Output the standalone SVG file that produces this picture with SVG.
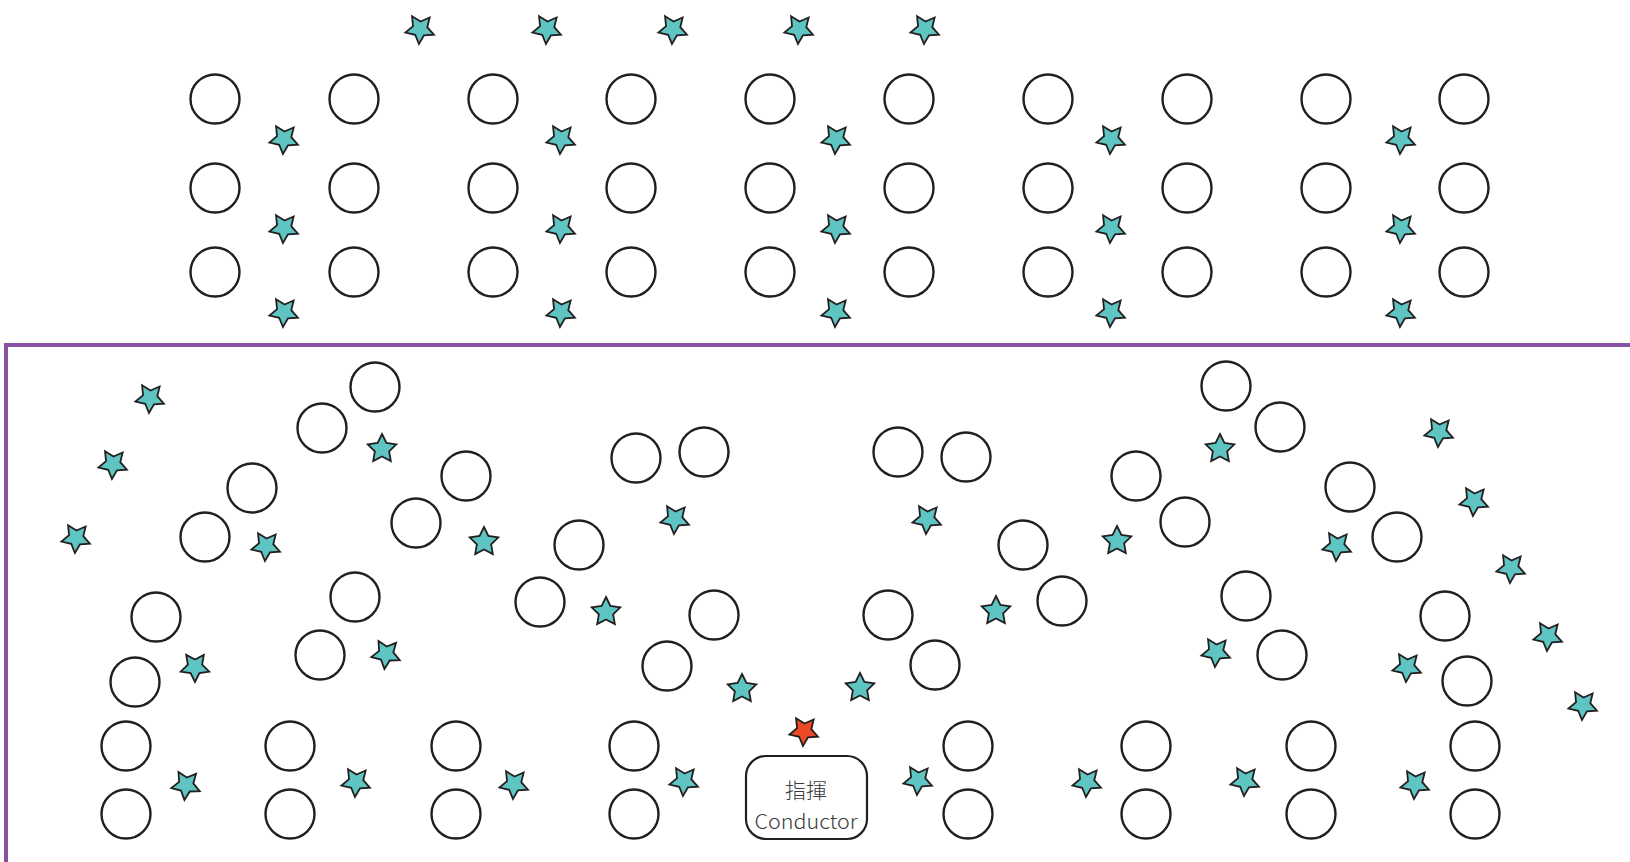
<svg xmlns="http://www.w3.org/2000/svg" xmlns:xlink="http://www.w3.org/1999/xlink" width="1630" height="862" viewBox="0 0 1630 862">
<style>
.seat{fill:#fff;stroke:#231f20;stroke-width:2.4}
.st{fill:#5ec5c2;stroke:#231f20;stroke-width:1.8;stroke-linejoin:miter}
.red{fill:#ee4a26;stroke:#231f20;stroke-width:1.8}
.frame{fill:none;stroke:#8851a4;stroke-width:4}
.box{fill:#fff;stroke:#231f20;stroke-width:2.2}
.cjk{font-family:"Noto Sans CJK TC","Noto Sans CJK SC",sans-serif;font-weight:300;font-size:21px;fill:#3a3a3a}
.lat{font-family:"Noto Sans CJK TC","Noto Sans",sans-serif;font-weight:300;font-size:20px;fill:#3a3a3a}
</style>
<defs>
<path id="star" d="M0,-15 L4.41,-6.07 L14.27,-4.64 L7.13,2.32 L8.82,12.14 L0,7.5 L-8.82,12.14 L-7.13,2.32 L-14.27,-4.64 L-4.41,-6.07 Z"/>
<circle id="c" r="24.5"/>
</defs>
<rect width="1630" height="862" fill="#fff"/>
<g id="frame"><path class="frame" d="M6,870 L6,345 L1640,345"/></g>
<g id="top-seats" class="seat">
<use href="#c" x="215" y="99"/><use href="#c" x="215" y="188"/><use href="#c" x="215" y="272"/>
<use href="#c" x="354" y="99"/><use href="#c" x="354" y="188"/><use href="#c" x="354" y="272"/>
<use href="#c" x="493" y="99"/><use href="#c" x="493" y="188"/><use href="#c" x="493" y="272"/>
<use href="#c" x="631" y="99"/><use href="#c" x="631" y="188"/><use href="#c" x="631" y="272"/>
<use href="#c" x="770" y="99"/><use href="#c" x="770" y="188"/><use href="#c" x="770" y="272"/>
<use href="#c" x="909" y="99"/><use href="#c" x="909" y="188"/><use href="#c" x="909" y="272"/>
<use href="#c" x="1048" y="99"/><use href="#c" x="1048" y="188"/><use href="#c" x="1048" y="272"/>
<use href="#c" x="1187" y="99"/><use href="#c" x="1187" y="188"/><use href="#c" x="1187" y="272"/>
<use href="#c" x="1326" y="99"/><use href="#c" x="1326" y="188"/><use href="#c" x="1326" y="272"/>
<use href="#c" x="1464" y="99"/><use href="#c" x="1464" y="188"/><use href="#c" x="1464" y="272"/>
</g>
<g id="top-stars" class="st">
<use href="#star" transform="translate(420,29) rotate(-32)"/>
<use href="#star" transform="translate(547,29) rotate(-32)"/>
<use href="#star" transform="translate(673,29) rotate(-32)"/>
<use href="#star" transform="translate(799,29) rotate(-32)"/>
<use href="#star" transform="translate(925,29) rotate(-32)"/>
<use href="#star" transform="translate(284,139) rotate(-32)"/><use href="#star" transform="translate(284,228) rotate(-32)"/><use href="#star" transform="translate(284,312) rotate(-32)"/>
<use href="#star" transform="translate(561,139) rotate(-32)"/><use href="#star" transform="translate(561,228) rotate(-32)"/><use href="#star" transform="translate(561,312) rotate(-32)"/>
<use href="#star" transform="translate(836,139) rotate(-32)"/><use href="#star" transform="translate(836,228) rotate(-32)"/><use href="#star" transform="translate(836,312) rotate(-32)"/>
<use href="#star" transform="translate(1111,139) rotate(-32)"/><use href="#star" transform="translate(1111,228) rotate(-32)"/><use href="#star" transform="translate(1111,312) rotate(-32)"/>
<use href="#star" transform="translate(1401,139) rotate(-32)"/><use href="#star" transform="translate(1401,228) rotate(-32)"/><use href="#star" transform="translate(1401,312) rotate(-32)"/>
</g>
<g id="lower-seats" class="seat">
<use href="#c" x="375" y="387"/><use href="#c" x="322" y="428"/>
<use href="#c" x="252" y="488"/><use href="#c" x="205" y="537"/>
<use href="#c" x="466" y="476"/><use href="#c" x="416" y="523"/>
<use href="#c" x="355" y="597"/><use href="#c" x="320" y="655"/>
<use href="#c" x="156" y="617"/><use href="#c" x="135" y="682"/>
<use href="#c" x="126" y="746"/><use href="#c" x="126" y="814"/>
<use href="#c" x="290" y="746"/><use href="#c" x="290" y="814"/>
<use href="#c" x="456" y="746"/><use href="#c" x="456" y="814"/>
<use href="#c" x="579" y="545"/><use href="#c" x="540" y="602"/>
<use href="#c" x="636" y="458"/><use href="#c" x="704" y="452"/>
<use href="#c" x="714" y="615"/><use href="#c" x="667" y="666"/>
<use href="#c" x="634" y="746"/><use href="#c" x="634" y="814"/>
<use href="#c" x="898" y="452"/><use href="#c" x="966" y="457"/>
<use href="#c" x="1023" y="545"/><use href="#c" x="1062" y="601"/>
<use href="#c" x="888" y="615"/><use href="#c" x="935" y="665"/>
<use href="#c" x="968" y="746"/><use href="#c" x="968" y="814"/>
<use href="#c" x="1136" y="476"/><use href="#c" x="1185" y="522"/>
<use href="#c" x="1226" y="386"/><use href="#c" x="1280" y="427"/>
<use href="#c" x="1350" y="487"/><use href="#c" x="1397" y="537"/>
<use href="#c" x="1246" y="596"/><use href="#c" x="1282" y="655"/>
<use href="#c" x="1445" y="616"/><use href="#c" x="1467" y="681"/>
<use href="#c" x="1146" y="746"/><use href="#c" x="1146" y="814"/>
<use href="#c" x="1311" y="746"/><use href="#c" x="1311" y="814"/>
<use href="#c" x="1475" y="746"/><use href="#c" x="1475" y="814"/>
</g>
<g id="lower-stars" class="st">
<use href="#star" transform="translate(150,398) rotate(-32)"/>
<use href="#star" transform="translate(113,464) rotate(-32)"/>
<use href="#star" transform="translate(76,538) rotate(-32)"/>
<use href="#star" transform="translate(382,449)"/>
<use href="#star" transform="translate(266,546) rotate(-32)"/>
<use href="#star" transform="translate(484,542)"/>
<use href="#star" transform="translate(195,667) rotate(-36)"/>
<use href="#star" transform="translate(186,785) rotate(-30)"/>
<use href="#star" transform="translate(386,654) rotate(-30)"/>
<use href="#star" transform="translate(356,782) rotate(-32)"/>
<use href="#star" transform="translate(514,784) rotate(-32)"/>
<use href="#star" transform="translate(675,519) rotate(-32)"/>
<use href="#star" transform="translate(606,612)"/>
<use href="#star" transform="translate(742,689)"/>
<use href="#star" transform="translate(684,781) rotate(-32)"/>
<use href="#star" transform="translate(927,519) rotate(-32)"/>
<use href="#star" transform="translate(860,688)"/>
<use href="#star" transform="translate(996,611)"/>
<use href="#star" transform="translate(918,780) rotate(-32)"/>
<use href="#star" transform="translate(1117,541)"/>
<use href="#star" transform="translate(1220,449)"/>
<use href="#star" transform="translate(1087,782) rotate(-32)"/>
<use href="#star" transform="translate(1216,652) rotate(-32)"/>
<use href="#star" transform="translate(1245,781) rotate(-32)"/>
<use href="#star" transform="translate(1337,546) rotate(-32)"/>
<use href="#star" transform="translate(1407,667) rotate(-32)"/>
<use href="#star" transform="translate(1415,784) rotate(-32)"/>
<use href="#star" transform="translate(1439,432) rotate(-32)"/>
<use href="#star" transform="translate(1474,501) rotate(-32)"/>
<use href="#star" transform="translate(1511,568) rotate(-32)"/>
<use href="#star" transform="translate(1548,636) rotate(-32)"/>
<use href="#star" transform="translate(1583,705) rotate(-32)"/>
</g>
<g id="conductor-star"><use href="#star" class="red" transform="translate(804,731) rotate(-32)"/></g>
<g id="conductor">
<rect class="box" x="746" y="756" width="121" height="83" rx="20"/>
<text class="cjk" x="806" y="798" text-anchor="middle">指揮</text>
<text class="lat" x="806" y="829" text-anchor="middle" textLength="103" lengthAdjust="spacingAndGlyphs">Conductor</text>
</g>
</svg>
